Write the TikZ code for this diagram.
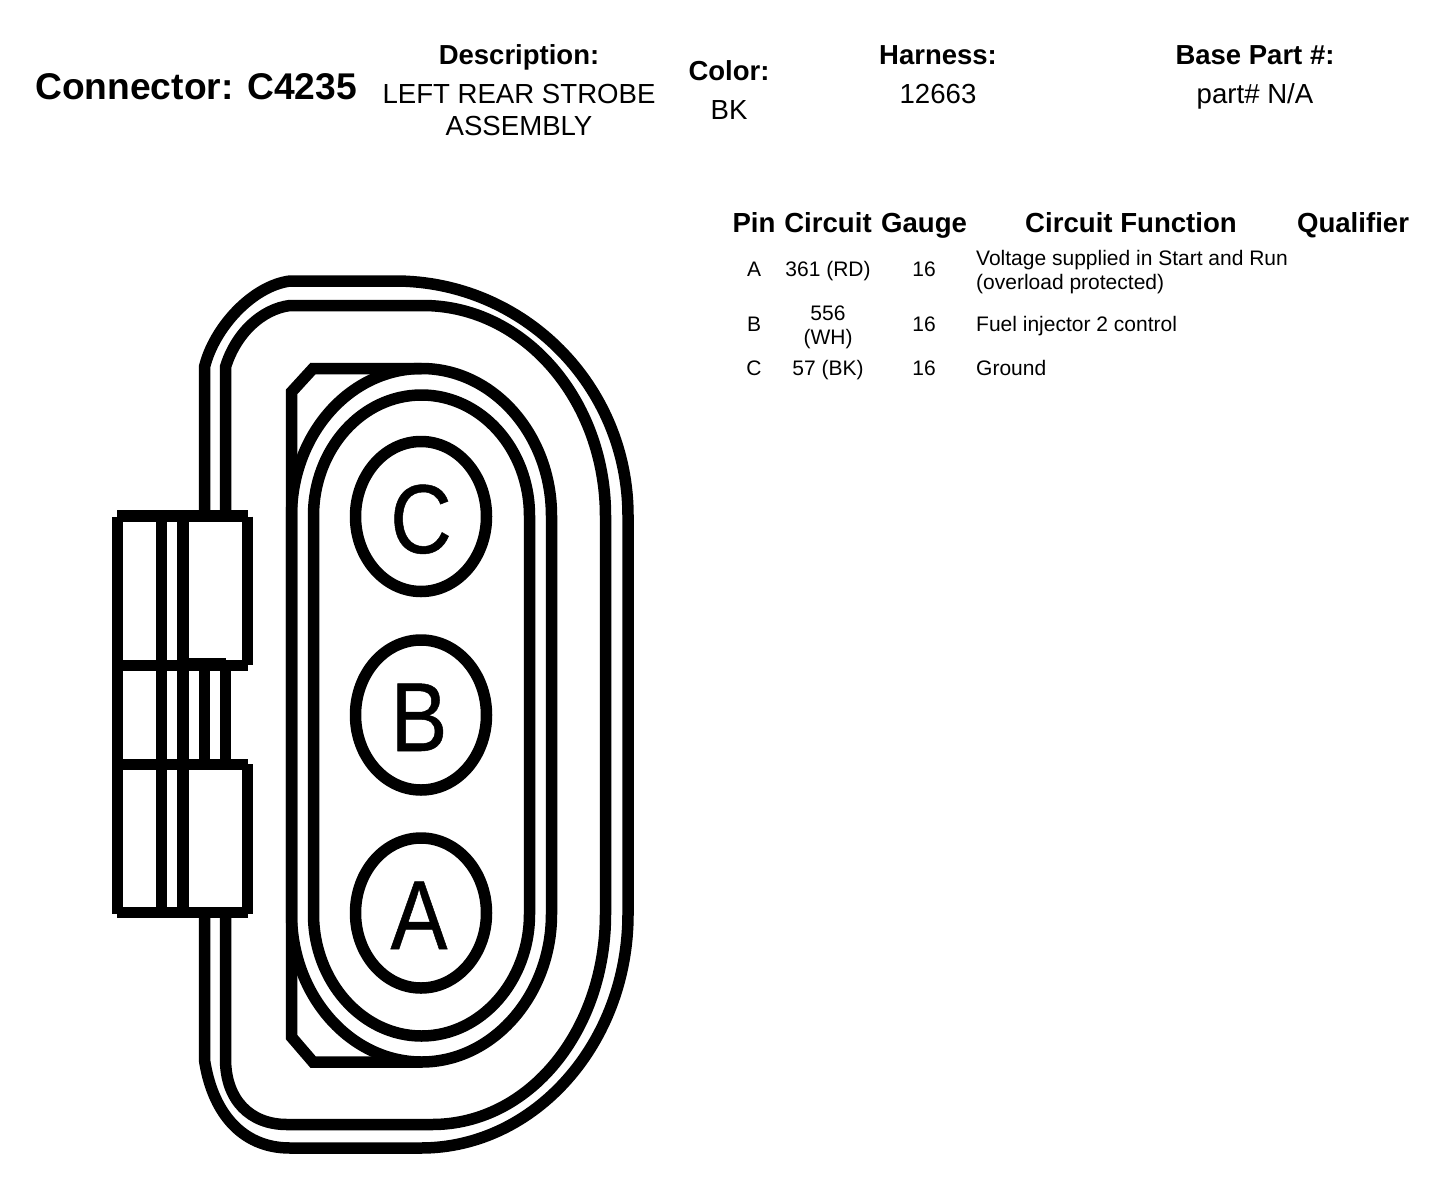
\documentclass[tikz,border=0pt]{standalone}
\usepackage{fontspec}
\setmainfont{Liberation Sans}
\newfontfamily\pinfont[FakeStretch=0.87,FakeBold=0.5]{Liberation Sans}
\usetikzlibrary{shapes.geometric}
\tikzset{
  thick line/.style={line width=11.5pt,line cap=butt,line join=miter,black},
  ttl/.style={font=\fontsize{27.5}{27.5}\bfseries\selectfont,anchor=base,inner sep=0pt},
  val/.style={font=\fontsize{27.6}{27.6}\selectfont,anchor=base,inner sep=0pt},
  hdr/.style={font=\fontsize{27.6}{27.6}\bfseries\selectfont,anchor=base,inner sep=0pt},
  cell/.style={font=\fontsize{21}{21}\selectfont,anchor=base,inner sep=0pt},
  celll/.style={font=\fontsize{21}{21}\selectfont,anchor=base west,inner sep=0pt},
  pinl/.style={font=\pinfont\fontsize{98}{98}\selectfont,anchor=base,inner sep=0pt},
  pinring/.style={draw=black,line width=11.5pt,ellipse,minimum width=131pt,minimum height=150pt,inner sep=0pt,outer sep=0pt}
}
\begin{document}
\begin{tikzpicture}[x=1pt,y=-1pt]
\useasboundingbox (0,0) rectangle (1456,1186);
% outer shell
\draw[thick line] (204.5,516) -- (204.5,367) .. controls (214,328) and (252,286) .. (290,281)
  -- (395,281) .. controls (524,281) and (628,386) .. (628,516) -- (628,914)
  .. controls (628,1043) and (535,1148) .. (421,1148) -- (290,1148)
  .. controls (240,1148) and (212,1110) .. (204.5,1060) -- (204.5,912);
\draw[thick line] (225.5,516) -- (225.5,367) .. controls (236,333) and (262,309) .. (290,305.5)
  -- (423,305.5) .. controls (524,305.5) and (605.5,400) .. (605.5,516) -- (605.5,914)
  .. controls (605.5,1030) and (530,1124.5) .. (432,1124.5) -- (287,1124.5)
  .. controls (250,1124.5) and (226,1100) .. (225.5,1060) -- (225.5,912);
% D shell
\draw[thick line] (421.5,368.5) -- (313,368.5) -- (291.5,392) -- (291.5,1037) -- (313,1062) -- (421.5,1062);
% rings
\draw[thick line] (421.5,368.5) .. controls (493,368.5) and (551.5,434.5) .. (551.5,516) -- (551.5,914)
  .. controls (551.5,995) and (493,1062) .. (421.5,1062)
  .. controls (350,1062) and (291.5,995) .. (291.5,914) -- (291.5,516)
  .. controls (291.5,434.5) and (350,368.5) .. (421.5,368.5) -- cycle;
\draw[thick line] (421.5,395) .. controls (481,395) and (529.5,449) .. (529.5,516) -- (529.5,914)
  .. controls (529.5,981) and (481,1036) .. (421.5,1036)
  .. controls (362,1036) and (313.5,981) .. (313.5,914) -- (313.5,516)
  .. controls (313.5,449) and (362,395) .. (421.5,395) -- cycle;
% pins
\node[pinring] (pinC) at (421,516.5) {};
\node[pinring] (pinB) at (421,715) {};
\node[pinring] (pinA) at (421,913) {};
\node[pinl] (lblC) at (421,553) {C};
\node[pinl] (lblB) at (419,751) {B};
\node[pinl] (lblA) at (419,949) {A};
% latch
\draw[thick line] (117.5,516.5) -- (117.5,914);
\draw[thick line] (161.5,516) -- (161.5,912);
\draw[thick line] (183,516) -- (183,912);
\draw[thick line] (117,516) -- (248,516);
\draw[thick line] (117,665.5) -- (248,665.5);
\draw[thick line] (117,764.5) -- (248,764.5);
\draw[thick line] (117,912.5) -- (248,912.5);
\draw[thick line] (247.5,516.5) -- (247.5,665);
\draw[thick line] (247.5,764) -- (247.5,914);
\draw[thick line] (180,663.5) -- (226,663.5);
\draw[thick line] (204.5,665) -- (204.5,770);
\draw[thick line] (225.5,665) -- (225.5,770);
% heading
\node[ttl,font=\fontsize{37.2}{37.2}\bfseries\selectfont,anchor=base west] (conn) at (35,99) {Connector: C4235};
\node[ttl] (desc) at (519,64) {Description:};
\node[val] (desc1) at (519,103) {LEFT REAR STROBE};
\node[val] (desc2) at (519,135) {ASSEMBLY};
\node[ttl] (color) at (729,80) {Color:};
\node[val] (colorv) at (729,119) {BK};
\node[ttl] (harn) at (938,64) {Harness:};
\node[val] (harnv) at (938,103) {12663};
\node[ttl] (base) at (1255,64) {Base Part \#:};
\node[val] (basev) at (1255,103) {part\# N/A};
% table
\node[hdr] (hpin) at (754,232) {Pin};
\node[hdr] (hcir) at (828,232) {Circuit};
\node[hdr] (hgau) at (924,232) {Gauge};
\node[hdr] (hfun) at (1131,232) {Circuit Function};
\node[hdr] (hqua) at (1353,232) {Qualifier};
\node[cell] (ra1) at (754,276) {A};
\node[cell] (ra2) at (828,276) {361 (RD)};
\node[cell] (ra3) at (924,276) {16};
\node[celll] (ra4) at (976,265) {Voltage supplied in Start and Run};
\node[celll] (ra5) at (976,289) {(overload protected)};
\node[cell] (rb1) at (754,331) {B};
\node[cell] (rb2) at (828,320) {556};
\node[cell] (rb2b) at (828,344) {(WH)};
\node[cell] (rb3) at (924,331) {16};
\node[celll] (rb4) at (976,331) {Fuel injector 2 control};
\node[cell] (rc1) at (754,375) {C};
\node[cell] (rc2) at (828,375) {57 (BK)};
\node[cell] (rc3) at (924,375) {16};
\node[celll] (rc4) at (976,375) {Ground};
\end{tikzpicture}
\end{document}
